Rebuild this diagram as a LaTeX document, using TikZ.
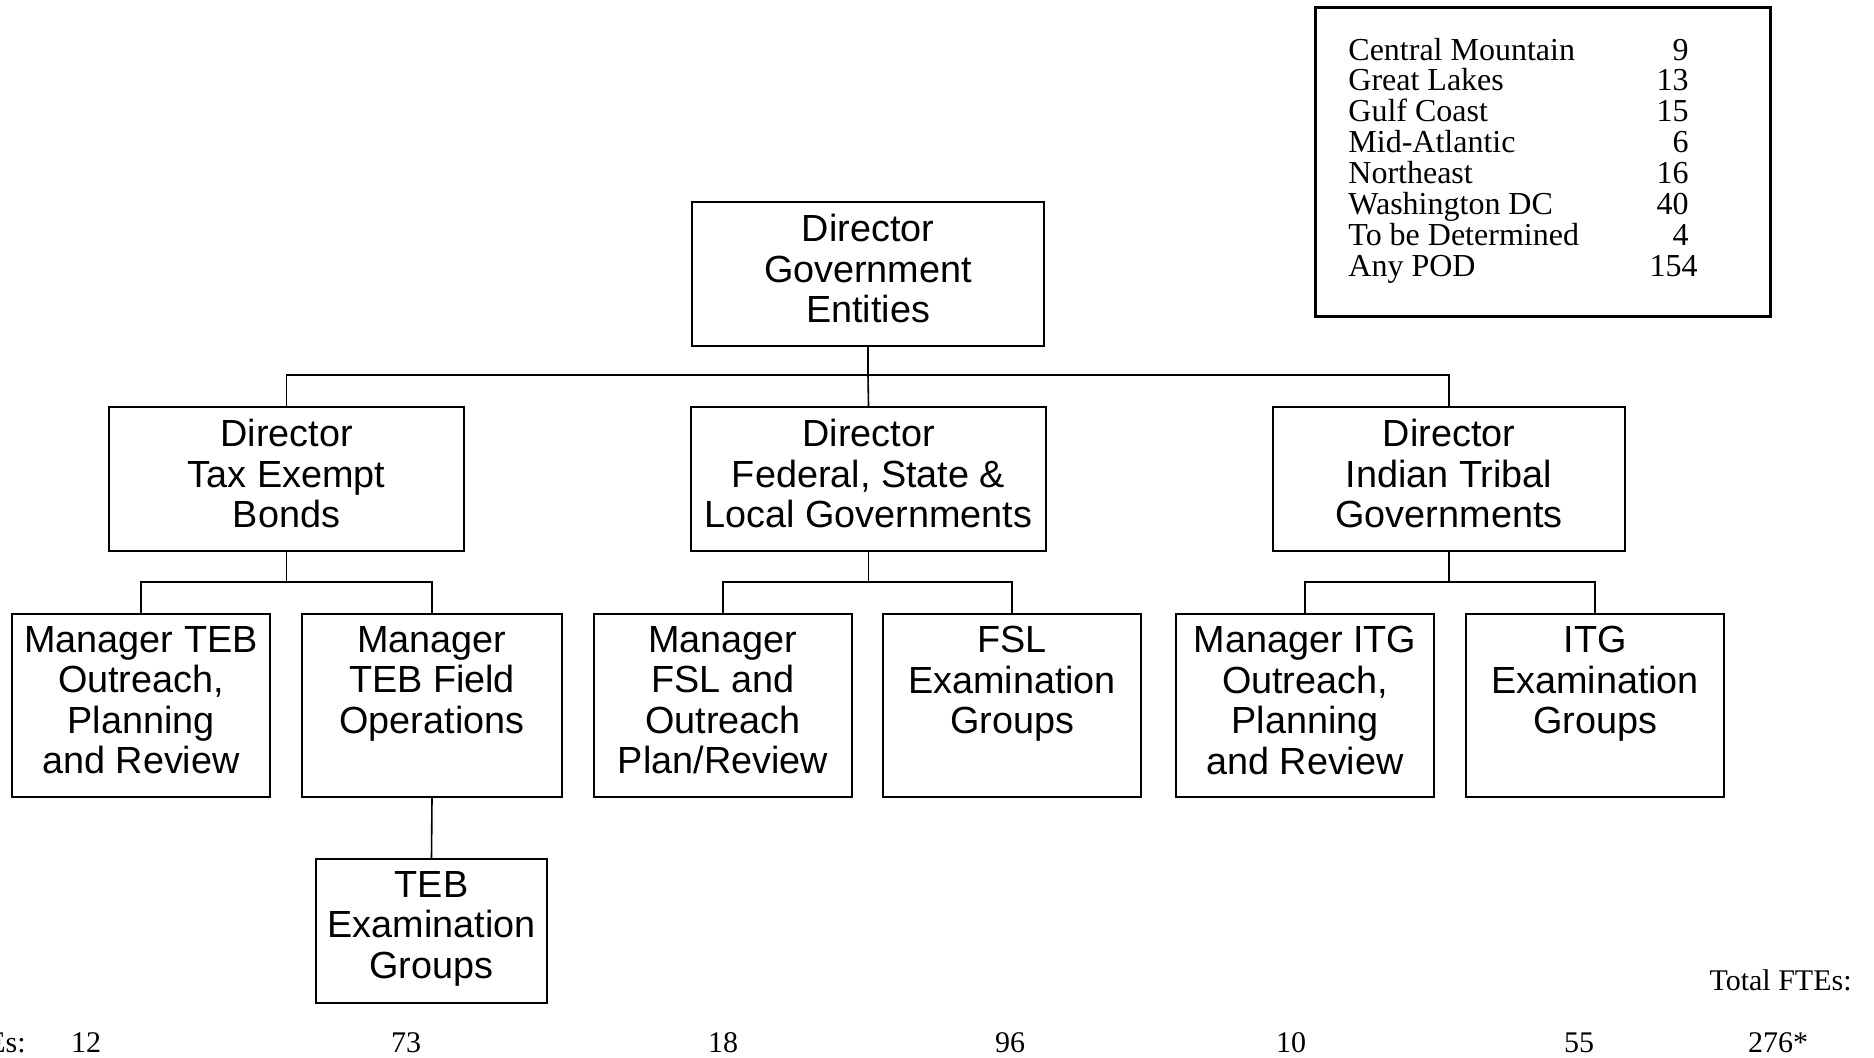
\documentclass[tikz,border=0pt]{standalone}
\usepackage{fontspec}
\setmainfont{Liberation Serif}
\newfontfamily\boxfont{Liberation Sans}
\usetikzlibrary{fit}
\begin{document}
\begin{tikzpicture}[x=0.5pt,y=-0.5pt,
  orgbox/.style={draw, line width=1pt, inner sep=0pt},
  lbl/.style={anchor=north, inner sep=0pt, yshift=-6.5pt, align=center,
    font=\boxfont\fontsize{18.9}{20.2}\selectfont},
  conn/.style={line width=0.8pt},
  legtxt/.style={inner sep=0pt, font=\fontsize{16}{16}\selectfont},
  fte/.style={inner sep=0pt, anchor=base, font=\fontsize{15}{15}\selectfont}]
\useasboundingbox (0,0) rectangle (1874,1057);

\newcommand\obox[6]{\node[orgbox, fit={(#2,#3) (#4,#5)}, label={[lbl]north:#6}] (#1) {};}

\obox{top}{692}{202}{1044}{346}{Director\\Government\\Entities}
\obox{L}{109}{407}{464}{551}{Director\\Tax Exempt\\Bonds}
\obox{M}{691}{407}{1046}{551}{Director\\Federal, State \&\\Local Governments}
\obox{R}{1273}{407}{1625}{551}{Director\\Indian Tribal\\Governments}
\obox{b1}{12}{614}{270}{797}{Manager TEB\\Outreach,\\Planning\\and Review}
\obox{b2}{302}{614}{562}{797}{Manager\\TEB Field\\Operations}
\obox{b3}{594}{614}{852}{797}{Manager\\FSL and\\Outreach\\Plan/Review}
\obox{b4}{883}{614}{1141}{797}{FSL\\Examination\\Groups}
\obox{b5}{1176}{614}{1434}{797}{Manager ITG\\Outreach,\\Planning\\and Review}
\obox{b6}{1466}{614}{1724}{797}{ITG\\Examination\\Groups}
\obox{b7}{316}{859}{547}{1003}{TEB\\Examination\\Groups}

% connectors
\coordinate (j0) at (top.south |- 0,375);
\draw[conn] (top.south) -- (j0);
\draw[conn] (L.north) |- (j0) -| (R.north);
\draw[conn] (M.north) -- (j0);

\coordinate (jL) at (L.south |- 0,582);
\draw[conn] (L.south) -- (jL);
\draw[conn] (b1.north) |- (jL) -| (b2.north);
\coordinate (jM) at (M.south |- 0,582);
\draw[conn] (M.south) -- (jM);
\draw[conn] (b3.north) |- (jM) -| (b4.north);
\coordinate (jR) at (R.south |- 0,582);
\draw[conn] (R.south) -- (jR);
\draw[conn] (b5.north) |- (jR) -| (b6.north);
\draw[conn] (b2.south) -- (b7.north);

% legend
\node[draw, line width=1.5pt, inner sep=0pt, fit={(1315,7) (1770,316)}] (legend) {};
\foreach \n/\v/\vx [count=\i from 0] in {Central Mountain/9/1689, Great Lakes/13/1689, Gulf Coast/15/1689, Mid-Atlantic/6/1689, Northeast/16/1689, Washington DC/40/1689, To be Determined/4/1689, Any POD/154/1698}{
  \node[legtxt, anchor=base west] (legname\i) at (1348,60+30.9*\i) {\n};
  \node[legtxt, anchor=base east] (legval\i) at (\vx,60+30.9*\i) {\v};
}

% FTE row
\node[fte, anchor=base east] (ftelbl) at (26,1052) {FTEs:};
\node[fte] (f1) at (86,1052) {12};
\node[fte] (f2) at (406,1052) {73};
\node[fte] (f3) at (723,1052) {18};
\node[fte] (f4) at (1010,1052) {96};
\node[fte] (f5) at (1291,1052) {10};
\node[fte] (f6) at (1579,1052) {55};
\node[fte] (f7) at (1778,1052) {276*};
\node[fte, anchor=base east] (totlbl) at (1852,990) {Total FTEs:};
\end{tikzpicture}
\end{document}
